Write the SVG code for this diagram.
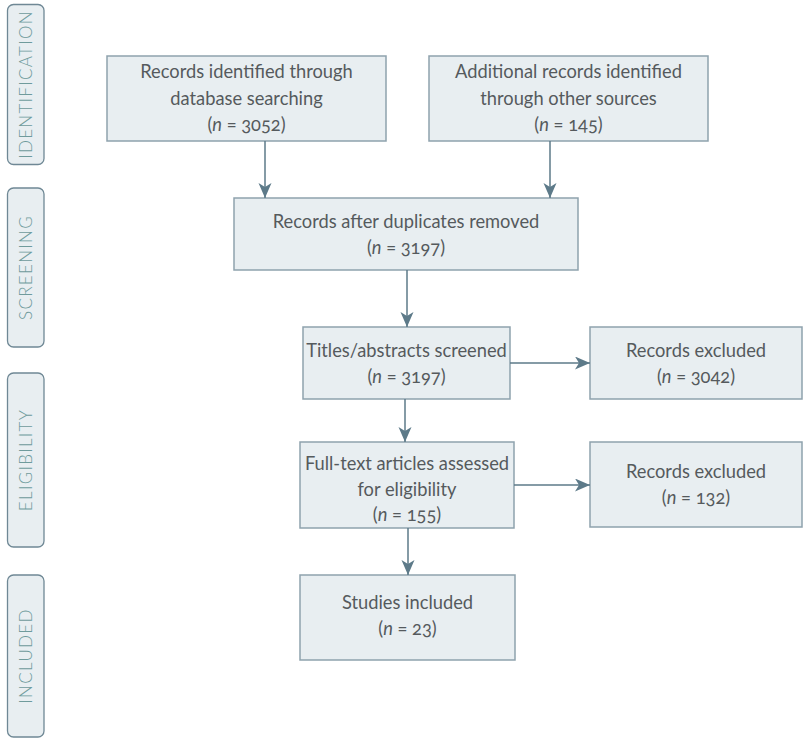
<svg xmlns="http://www.w3.org/2000/svg" width="808" height="738" viewBox="0 0 808 738">
<defs>
<marker id="ah" markerUnits="userSpaceOnUse" markerWidth="16" markerHeight="14" refX="15" refY="6.5" orient="auto">
<path d="M0,0 L15,6.5 L0,13 L4,6.5 Z" fill="#5d7a89"/>
</marker>
<style>
.box{fill:#e8eef1;stroke:#8ea2ad;stroke-width:1.5}
.side{fill:#e8eef1;stroke:#6f8895;stroke-width:1.3}
.t{font-family:Lato,"Open Sans","Liberation Sans",sans-serif;font-size:18.3px;fill:#555a5d;text-anchor:middle;font-variant-numeric:oldstyle-nums}
.s{font-family:Lato,"Open Sans","Liberation Sans",sans-serif;font-weight:300;font-size:17px;fill:#6f9b9c;text-anchor:middle;letter-spacing:1.3px}
.c{fill:none;stroke:#5d7a89;stroke-width:1.5;marker-end:url(#ah)}
.i{font-style:italic}
</style>
</defs>
<g id="side-identification"><rect class="side" x="7.5" y="4.5" width="36.5" height="160" rx="6"/><text class="s" transform="translate(31.5,84.5) rotate(-90)">IDENTIFICATION</text></g>
<g id="side-screening"><rect class="side" x="7.5" y="188" width="36.5" height="159" rx="6"/><text class="s" transform="translate(31.5,267.5) rotate(-90)">SCREENING</text></g>
<g id="side-eligibility"><rect class="side" x="7.5" y="373" width="36.5" height="174" rx="6"/><text class="s" transform="translate(31.5,460) rotate(-90)">ELIGIBILITY</text></g>
<g id="side-included"><rect class="side" x="7.5" y="575" width="36.5" height="162" rx="6"/><text class="s" transform="translate(31.5,656) rotate(-90)">INCLUDED</text></g>

<g id="n-database"><rect class="box" x="107" y="56" width="279" height="85"/>
<text class="t" x="246.5" y="78">Records identified through</text>
<text class="t" x="246.5" y="105">database searching</text>
<text class="t" x="246.5" y="131">(<tspan class="i">n</tspan> = 3052)</text></g>
<g id="n-other"><rect class="box" x="429" y="56" width="279" height="85"/>
<text class="t" x="568.5" y="78">Additional records identified</text>
<text class="t" x="568.5" y="105">through other sources</text>
<text class="t" x="568.5" y="131">(<tspan class="i">n</tspan> = 145)</text></g>
<g id="n-dedup"><rect class="box" x="234" y="198" width="344" height="72"/>
<text class="t" x="406" y="228">Records after duplicates removed</text>
<text class="t" x="406" y="254">(<tspan class="i">n</tspan> = 3197)</text></g>
<g id="n-screened"><rect class="box" x="303" y="327" width="207" height="72"/>
<text class="t" x="406.5" y="357">Titles/abstracts screened</text>
<text class="t" x="406.5" y="383">(<tspan class="i">n</tspan> = 3197)</text></g>
<g id="n-excl1"><rect class="box" x="590" y="327" width="212" height="72"/>
<text class="t" x="696" y="357">Records excluded</text>
<text class="t" x="696" y="383">(<tspan class="i">n</tspan> = 3042)</text></g>
<g id="n-fulltext"><rect class="box" x="300" y="442" width="214" height="86"/>
<text class="t" x="407" y="470">Full-text articles assessed</text>
<text class="t" x="407" y="496">for eligibility</text>
<text class="t" x="407" y="521">(<tspan class="i">n</tspan> = 155)</text></g>
<g id="n-excl2"><rect class="box" x="590" y="442" width="212" height="85"/>
<text class="t" x="696" y="478">Records excluded</text>
<text class="t" x="696" y="504">(<tspan class="i">n</tspan> = 132)</text></g>
<g id="n-included"><rect class="box" x="300" y="575" width="215" height="85"/>
<text class="t" x="407.5" y="609">Studies included</text>
<text class="t" x="407.5" y="635">(<tspan class="i">n</tspan> = 23)</text></g>

<g id="connectors">
<path class="c" d="M265,141 V198"/>
<path class="c" d="M550,141 V198"/>
<path class="c" d="M407,270 V327"/>
<path class="c" d="M510,363 H590"/>
<path class="c" d="M405,399 V442"/>
<path class="c" d="M514,485 H590"/>
<path class="c" d="M408,528 V575"/>
</g>
</svg>
